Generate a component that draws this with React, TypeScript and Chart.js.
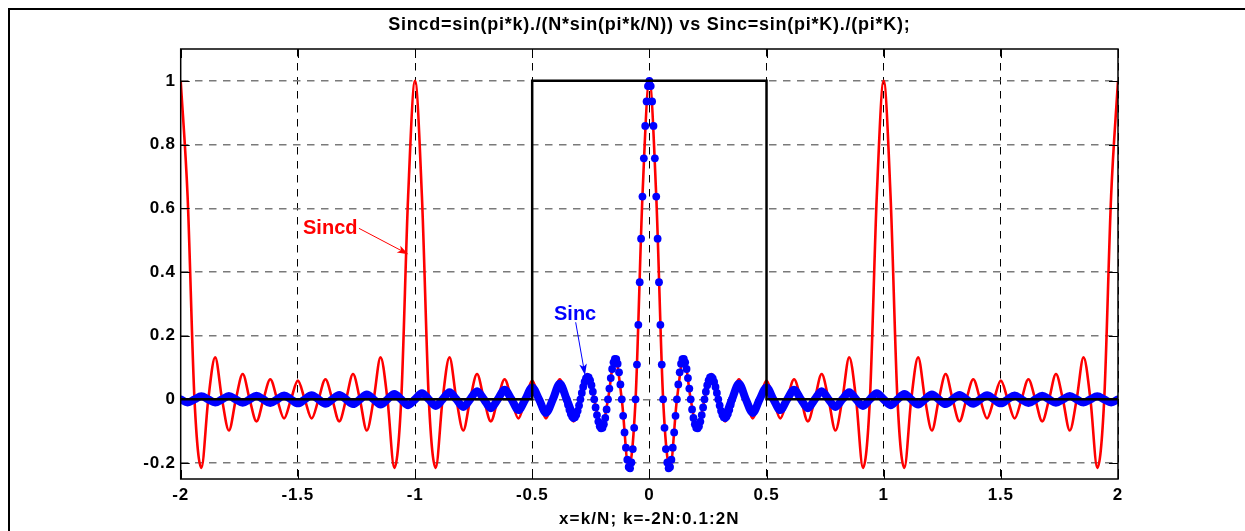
import { useEffect, useRef } from 'react';
import { Chart, registerables } from 'chart.js';

Chart.register(...registerables);

// ---------------- data ----------------
const N = 17;
const titleText = 'Sincd=sin(pi*k)./(N*sin(pi*k/N)) vs Sinc=sin(pi*K)./(pi*K);';
const xAxisTitle = 'x=k/N; k=-2N:0.1:2N';
const xTickValues = [-2, -1.5, -1, -0.5, 0, 0.5, 1, 1.5, 2];
const xTickLabels = ['-2', '-1.5', '-1', '-0.5', '0', '0.5', '1', '1.5', '2'];
const yTickValues = [-0.2, 0, 0.2, 0.4, 0.6, 0.8, 1];
const yTickLabels = ['-0.2', '0', '0.2', '0.4', '0.6', '0.8', '1'];

// Sincd (red) : k samples and values
const sincdK = [
  -34, -33.5, -33, -32.5, -32, -31.5, -31, -30.5, -30, -29.5, -29, -28.5, -28, -27.5, -27, -26.5, -26,
  -25.5, -25, -24.5, -24, -23.5, -23, -22.5, -22, -21.5, -21, -20.5, -20, -19.5, -19, -18.5, -18, -17.5,
  -17, -16.5, -16, -15.5, -15, -14.5, -14, -13.5, -13, -12.5, -12, -11.5, -11, -10.5, -10, -9.5, -9,
  -8.5, -8, -7.5, -7, -6.5, -6, -5.5, -5, -4.5, -4, -3.5, -3, -2.5, -2, -1.5, -1, -0.5,
  0, 0.5, 1, 1.5, 2, 2.5, 3, 3.5, 4, 4.5, 5, 5.5, 6, 6.5, 7, 7.5, 8, 8.5,
  9, 9.5, 10, 10.5, 11, 11.5, 12, 12.5, 13, 13.5, 14, 14.5, 15, 15.5, 16, 16.5, 17,
  17.5, 18, 18.5, 19, 19.5, 20, 20.5, 21, 21.5, 22, 22.5, 23, 23.5, 24, 24.5, 25, 25.5,
  26, 26.5, 27, 27.5, 28, 28.5, 29, 29.5, 30, 30.5, 31, 31.5, 32, 32.5, 33, 33.5, 34,
];
const sincdValues = [
  1, 0.6375, 0, -0.215, 0, 0.132, 0, -0.0976, 0, 0.0796, 0, -0.0692, 0, 0.0631, 0, -0.0598, 0,
  0.0588, 0, -0.0598, 0, 0.0631, 0, -0.0692, 0, 0.0796, 0, -0.0976, 0, 0.132, 0, -0.215, 0, 0.6375,
  1, 0.6375, 0, -0.215, 0, 0.132, 0, -0.0976, 0, 0.0796, 0, -0.0692, 0, 0.0631, 0, -0.0598, 0,
  0.0588, 0, -0.0598, 0, 0.0631, 0, -0.0692, 0, 0.0796, 0, -0.0976, 0, 0.132, 0, -0.215, 0, 0.6375,
  1, 0.6375, 0, -0.215, 0, 0.132, 0, -0.0976, 0, 0.0796, 0, -0.0692, 0, 0.0631, 0, -0.0598, 0,
  0.0588, 0, -0.0598, 0, 0.0631, 0, -0.0692, 0, 0.0796, 0, -0.0976, 0, 0.132, 0, -0.215, 0, 0.6375,
  1, 0.6375, 0, -0.215, 0, 0.132, 0, -0.0976, 0, 0.0796, 0, -0.0692, 0, 0.0631, 0, -0.0598, 0,
  0.0588, 0, -0.0598, 0, 0.0631, 0, -0.0692, 0, 0.0796, 0, -0.0976, 0, 0.132, 0, -0.215, 0, 0.6375,
  1,
];

// Sinc (blue dots) near the centre
const sincK = [
  -6, -5.9, -5.8, -5.7, -5.6, -5.5, -5.4, -5.3, -5.2, -5.1, -5, -4.9, -4.8, -4.7, -4.6, -4.5, -4.4, -4.3,
  -4.2, -4.1, -4, -3.9, -3.8, -3.7, -3.6, -3.5, -3.4, -3.3, -3.2, -3.1, -3, -2.9, -2.8, -2.7, -2.6, -2.5,
  -2.4, -2.3, -2.2, -2.1, -2, -1.9, -1.8, -1.7, -1.6, -1.5, -1.4, -1.3, -1.2, -1.1, -1, -0.9, -0.8, -0.7,
  -0.6, -0.5, -0.4, -0.3, -0.2, -0.1, 0, 0.1, 0.2, 0.3, 0.4, 0.5, 0.6, 0.7, 0.8, 0.9, 1, 1.1, 1.2, 1.3,
  1.4, 1.5, 1.6, 1.7, 1.8, 1.9, 2, 2.1, 2.2, 2.3, 2.4, 2.5, 2.6, 2.7, 2.8, 2.9, 3, 3.1, 3.2, 3.3, 3.4,
  3.5, 3.6, 3.7, 3.8, 3.9, 4, 4.1, 4.2, 4.3, 4.4, 4.5, 4.6, 4.7, 4.8, 4.9, 5, 5.1, 5.2, 5.3, 5.4, 5.5,
  5.6, 5.7, 5.8, 5.9, 6,
];
const sincValues = [
  0, -0.0167, -0.0323, -0.0452, -0.0541, -0.0579, -0.0561, -0.0486, -0.036, -0.0193,
  0, 0.0201, 0.039, 0.0548, 0.0658, 0.0707, 0.0688, 0.0599, 0.0446, 0.024,
  0, -0.0252, -0.0492, -0.0696, -0.0841, -0.0909, -0.089, -0.078, -0.0585, -0.0317,
  0, 0.0339, 0.0668, 0.0954, 0.1164, 0.1273, 0.1261, 0.112, 0.085, 0.0468,
  0, -0.0518, -0.1039, -0.1515, -0.1892, -0.2122, -0.2162, -0.1981, -0.1559, -0.0894,
  0, 0.1093, 0.2339, 0.3679, 0.5046, 0.6366, 0.7568, 0.8584, 0.9355, 0.9836,
  1,
  0.9836, 0.9355, 0.8584, 0.7568, 0.6366, 0.5046, 0.3679, 0.2339, 0.1093, 0,
  -0.0894, -0.1559, -0.1981, -0.2162, -0.2122, -0.1892, -0.1515, -0.1039, -0.0518, 0,
  0.0468, 0.085, 0.112, 0.1261, 0.1273, 0.1164, 0.0954, 0.0668, 0.0339, 0,
  -0.0317, -0.0585, -0.078, -0.089, -0.0909, -0.0841, -0.0696, -0.0492, -0.0252, 0,
  0.024, 0.0446, 0.0599, 0.0688, 0.0707, 0.0658, 0.0548, 0.039, 0.0201, 0,
  -0.0193, -0.036, -0.0486, -0.0561, -0.0579, -0.0541, -0.0452, -0.0323, -0.0167, 0,
];

// Sinc (blue) tails, where the dense dots merge into a band
const sincTailLeftK = [
  -34, -33.5, -33, -32.5, -32, -31.5, -31, -30.5, -30, -29.5, -29, -28.5, -28, -27.5, -27, -26.5, -26,
  -25.5, -25, -24.5, -24, -23.5, -23, -22.5, -22, -21.5, -21, -20.5, -20, -19.5, -19, -18.5, -18, -17.5,
  -17, -16.5, -16, -15.5, -15, -14.5, -14, -13.5, -13, -12.5, -12, -11.5, -11, -10.5, -10, -9.5, -9,
  -8.5, -8, -7.5, -7, -6.5, -6, -5.5,
];
const sincTailLeftValues = [
  0, -0.0095, 0, 0.0098, 0, -0.0101, 0, 0.0104, 0, -0.0108, 0, 0.0112, 0, -0.0116, 0, 0.012,
  0, -0.0125, 0, 0.013, 0, -0.0135, 0, 0.0141, 0, -0.0148, 0, 0.0155, 0, -0.0163, 0, 0.0172,
  0, -0.0182, 0, 0.0193, 0, -0.0205, 0, 0.022, 0, -0.0236, 0, 0.0255, 0, -0.0277, 0, 0.0303,
  0, -0.0335, 0, 0.0374, 0, -0.0424, 0, 0.049, 0, -0.0579,
];
const sincTailRightK = [
  5.5, 6, 6.5, 7, 7.5, 8, 8.5, 9, 9.5, 10, 10.5, 11, 11.5, 12, 12.5, 13, 13.5, 14, 14.5, 15, 15.5, 16,
  16.5, 17, 17.5, 18, 18.5, 19, 19.5, 20, 20.5, 21, 21.5, 22, 22.5, 23, 23.5, 24, 24.5, 25, 25.5, 26,
  26.5, 27, 27.5, 28, 28.5, 29, 29.5, 30, 30.5, 31, 31.5, 32, 32.5, 33, 33.5, 34,
];
const sincTailRightValues = [
  -0.0579, 0, 0.049, 0, -0.0424, 0, 0.0374, 0, -0.0335, 0, 0.0303, 0, -0.0277, 0, 0.0255, 0,
  -0.0236, 0, 0.022, 0, -0.0205, 0, 0.0193, 0, -0.0182, 0, 0.0172, 0, -0.0163, 0, 0.0155, 0,
  -0.0148, 0, 0.0141, 0, -0.0135, 0, 0.013, 0, -0.0125, 0, 0.012, 0, -0.0116, 0, 0.0112, 0,
  -0.0108, 0, 0.0104, 0, -0.0101, 0, 0.0098, 0, -0.0095, 0,
];

// Rectangular window (black), in x = k/N units
const rectX = [-2, -0.5, -0.5, 0.5, 0.5, 2];
const rectValues = [0, 0, 1, 1, 0, 0];

// Text annotations with arrows (data coordinates, x = k/N)
const annotationLabels = ['Sincd', 'Sinc'];
const annotationColors = ['#ff0000', '#0000ff'];

// ---------------- drawing helpers ----------------
const FONT = "'Liberation Sans', Arial, Helvetica, sans-serif";

const fromK = (ks: number[], ys: number[]) => ks.map((k, i) => ({ x: k / N, y: ys[i] }));
const fromX = (xs: number[], ys: number[]) => xs.map((x, i) => ({ x, y: ys[i] }));

const annotationLayout = [
  { text: { x: -1.478, y: 0.538 }, from: { x: -1.2394, y: 0.537 }, to: { x: -1.0289, y: 0.4556 } },
  { text: { x: -0.4069, y: 0.265 }, from: { x: -0.3144, y: 0.242 }, to: { x: -0.2747, y: 0.0766 } },
];

function drawArrow(ctx: CanvasRenderingContext2D, x1: number, y1: number, x2: number, y2: number, color: string) {
  const a = Math.atan2(y2 - y1, x2 - x1);
  const head = 11;
  const half = 3.8;
  ctx.strokeStyle = color;
  ctx.lineWidth = 1;
  ctx.beginPath();
  ctx.moveTo(x1, y1);
  ctx.lineTo(x2 - head * 0.6 * Math.cos(a), y2 - head * 0.6 * Math.sin(a));
  ctx.stroke();
  ctx.fillStyle = color;
  ctx.beginPath();
  ctx.moveTo(x2, y2);
  ctx.lineTo(x2 - head * Math.cos(a) + half * Math.sin(a), y2 - head * Math.sin(a) - half * Math.cos(a));
  ctx.lineTo(x2 - head * 0.75 * Math.cos(a), y2 - head * 0.75 * Math.sin(a));
  ctx.lineTo(x2 - head * Math.cos(a) - half * Math.sin(a), y2 - head * Math.sin(a) + half * Math.cos(a));
  ctx.closePath();
  ctx.fill();
}

const matlabPlugin = {
  id: 'matlabLook',
  beforeDraw(chart: any) {
    chart.ctx.letterSpacing = '0.8px';
  },
  afterDatasetsDraw(chart: any) {
    const { ctx, chartArea: a, scales } = chart;
    ctx.save();
    ctx.letterSpacing = '0px';
    ctx.strokeStyle = '#000';
    ctx.lineWidth = 1.5;
    ctx.strokeRect(a.left, a.top, a.right - a.left, a.bottom - a.top);
    ctx.lineWidth = 1;
    const tl = 9;
    ctx.beginPath();
    xTickValues.forEach((v) => {
      const px = Math.round(scales.x.getPixelForValue(v)) + 0.5;
      ctx.moveTo(px, a.bottom);
      ctx.lineTo(px, a.bottom - tl);
      ctx.moveTo(px, a.top);
      ctx.lineTo(px, a.top + tl);
    });
    yTickValues.forEach((v) => {
      const py = Math.round(scales.y.getPixelForValue(v)) + 0.5;
      ctx.moveTo(a.left, py);
      ctx.lineTo(a.left + tl, py);
      ctx.moveTo(a.right, py);
      ctx.lineTo(a.right - tl, py);
    });
    ctx.stroke();
    ctx.restore();
  },
  afterDraw(chart: any) {
    const { ctx, chartArea: a, scales } = chart;
    ctx.save();
    ctx.fillStyle = '#000';
    ctx.textAlign = 'center';
    ctx.textBaseline = 'middle';
    ctx.letterSpacing = '0.75px';
    ctx.font = `bold 18px ${FONT}`;
    ctx.fillText(titleText, (a.left + a.right) / 2, 25);
    ctx.letterSpacing = '1.1px';
    ctx.font = `bold 17px ${FONT}`;
    ctx.fillText(xAxisTitle, (a.left + a.right) / 2, 519);

    ctx.letterSpacing = '0px';
    ctx.font = `bold 20px ${FONT}`;
    ctx.textAlign = 'left';
    annotationLayout.forEach((an, i) => {
      const color = annotationColors[i];
      ctx.fillStyle = color;
      ctx.fillText(annotationLabels[i], scales.x.getPixelForValue(an.text.x), scales.y.getPixelForValue(an.text.y));
      drawArrow(
        ctx,
        scales.x.getPixelForValue(an.from.x),
        scales.y.getPixelForValue(an.from.y),
        scales.x.getPixelForValue(an.to.x),
        scales.y.getPixelForValue(an.to.y),
        color,
      );
    });
    ctx.restore();
    ctx.letterSpacing = '0px';
  },
};

export default function App() {
  const ref = useRef<HTMLCanvasElement>(null);

  useEffect(() => {
    const canvas = ref.current;
    if (!canvas) return;
    const tickFont = { family: FONT, weight: 'bold' as const, size: 17 };
    const chart = new Chart(canvas, {
      type: 'line',
      data: {
        datasets: [
          {
            label: 'Window',
            data: fromX(rectX, rectValues),
            borderColor: '#000000',
            borderWidth: 2.5,
            pointRadius: 0,
            tension: 0,
          },
          {
            label: 'Sinc',
            data: fromK(sincK, sincValues),
            showLine: false,
            borderColor: '#0000ff',
            pointRadius: 3.9,
            pointBackgroundColor: '#0000ff',
            pointBorderColor: '#0000ff',
            pointBorderWidth: 0,
          },
          {
            label: 'Sinc tail L',
            data: fromK(sincTailLeftK, sincTailLeftValues),
            borderColor: '#0000ff',
            borderWidth: 8,
            pointRadius: 0,
            cubicInterpolationMode: 'monotone',
            borderCapStyle: 'round',
            borderJoinStyle: 'round',
          },
          {
            label: 'Sinc tail R',
            data: fromK(sincTailRightK, sincTailRightValues),
            borderColor: '#0000ff',
            borderWidth: 8,
            pointRadius: 0,
            cubicInterpolationMode: 'monotone',
            borderCapStyle: 'round',
            borderJoinStyle: 'round',
          },
          {
            label: 'Sincd',
            data: fromK(sincdK, sincdValues),
            borderColor: '#ff0000',
            borderWidth: 2.6,
            pointRadius: 0,
            cubicInterpolationMode: 'monotone',
          },
        ],
      },
      options: {
        responsive: false,
        animation: false,
        devicePixelRatio: 1,
        events: [],
        layout: { padding: { top: 49, right: 127, bottom: 0, left: 0 } },
        plugins: {
          legend: { display: false },
          tooltip: { enabled: false },
          title: { display: false },
        },
        scales: {
          x: {
            type: 'linear',
            min: -2,
            max: 2,
            afterBuildTicks: (s: any) => {
              s.ticks = xTickValues.map((v) => ({ value: v }));
            },
            afterFit: (s: any) => {
              s.height = 52;
            },
            grid: { color: '#000000', lineWidth: 1, drawTicks: false },
            border: { display: false, dash: [7.5, 6.5] },
            ticks: {
              callback: (_v: any, i: number) => xTickLabels[i],
              font: tickFont,
              color: '#000000',
              padding: 6.5,
              maxRotation: 0,
              autoSkip: false,
            },
          },
          y: {
            type: 'linear',
            min: -0.25,
            max: 1.1,
            afterBuildTicks: (s: any) => {
              s.ticks = yTickValues.map((v) => ({ value: v }));
            },
            afterFit: (s: any) => {
              s.width = 180.7;
            },
            grid: { color: '#7a7a7a', lineWidth: 1.5, drawTicks: false },
            border: { display: false, dash: [7.5, 6.5] },
            ticks: {
              callback: (_v: any, i: number) => yTickLabels[i],
              font: tickFont,
              color: '#000000',
              padding: 5,
              autoSkip: false,
            },
          },
        },
      },
      plugins: [matlabPlugin],
    } as any);
    return () => chart.destroy();
  }, []);

  return (
    <div style={{ position: 'fixed', left: 0, top: 0, width: 1245, height: 531, overflow: 'hidden', background: '#ffffff' }}>
      <div
        style={{
          position: 'absolute',
          left: 8,
          top: 8,
          width: 1300,
          height: 600,
          borderLeft: '2px solid #000',
          borderTop: '2px solid #000',
        }}
      />
      <canvas
        ref={ref}
        width={1245}
        height={531}
        style={{ position: 'absolute', left: 0, top: 0, width: 1245, height: 531 }}
      />
    </div>
  );
}
